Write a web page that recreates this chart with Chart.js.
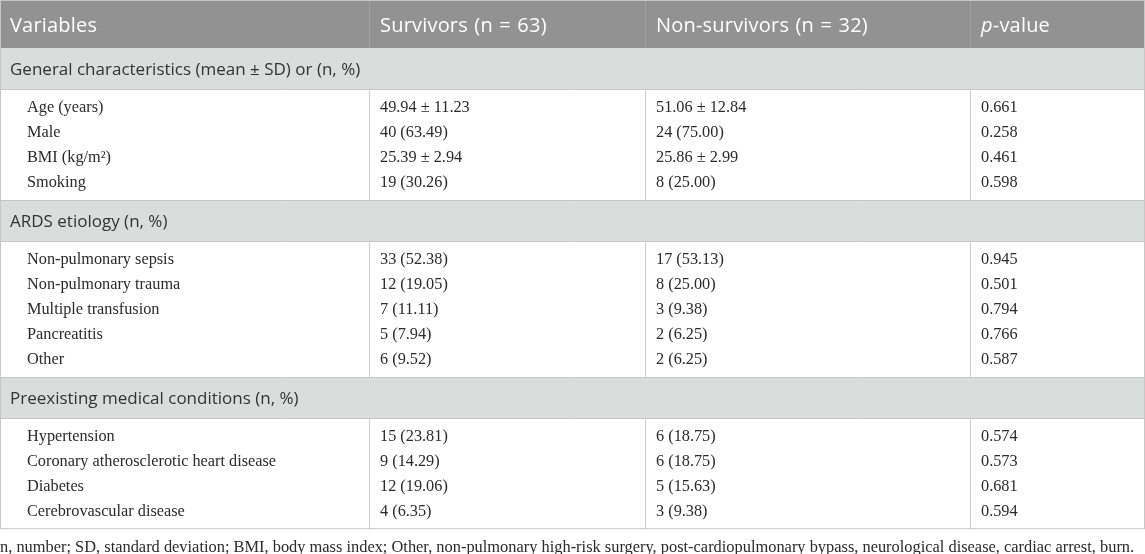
<!DOCTYPE html>
<html>
<head>
<meta charset="utf-8">
<script src="https://cdn.jsdelivr.net/npm/chart.js@4.4.1/dist/chart.umd.min.js"></script>
<style>
  html, body { margin: 0; padding: 0; background: #fff; }
  canvas { display: block; }
</style>
</head>
<body>
<canvas id="tabla" width="1145" height="554"></canvas>
<script>
// datos de la tabla
const columnHeaders = ['Variables', 'Survivors (n = 63)', 'Non-survivors (n = 32)', 'p-value'];
const sectionTitles = [
  'General characteristics (mean ± SD) or (n, %)',
  'ARDS etiology (n, %)',
  'Preexisting medical conditions (n, %)'
];
const sectionSizes = [4, 5, 4];
const variables = [
  'Age (years)', 'Male', 'BMI (kg/m²)', 'Smoking',
  'Non-pulmonary sepsis', 'Non-pulmonary trauma', 'Multiple transfusion', 'Pancreatitis', 'Other',
  'Hypertension', 'Coronary atherosclerotic heart disease', 'Diabetes', 'Cerebrovascular disease'
];
const survivors = [
  '49.94 ± 11.23', '40 (63.49)', '25.39 ± 2.94', '19 (30.26)',
  '33 (52.38)', '12 (19.05)', '7 (11.11)', '5 (7.94)', '6 (9.52)',
  '15 (23.81)', '9 (14.29)', '12 (19.06)', '4 (6.35)'
];
const nonSurvivors = [
  '51.06 ± 12.84', '24 (75.00)', '25.86 ± 2.99', '8 (25.00)',
  '17 (53.13)', '8 (25.00)', '3 (9.38)', '2 (6.25)', '2 (6.25)',
  '6 (18.75)', '6 (18.75)', '5 (15.63)', '3 (9.38)'
];
const pValues = [
  '0.661', '0.258', '0.461', '0.598',
  '0.945', '0.501', '0.794', '0.766', '0.587',
  '0.574', '0.573', '0.681', '0.594'
];
const footnote = 'n, number; SD, standard deviation; BMI, body mass index; Other, non-pulmonary high-risk surgery, post-cardiopulmonary bypass, neurological disease, cardiac arrest, burn.';

// medidas de la rejilla (unidades de escala)
const colWidths = [369, 276, 325, 175];
const alto = { header: 48, section: 41, padTop: 6, line: 25, padBottom: 5 };

const colEdges = colWidths.reduce((acc, w) => { acc.push(acc[acc.length - 1] + w); return acc; }, [0]);
const totalW = colEdges[colEdges.length - 1];

// filas: cabecera, secciones y bloques de datos
const bloques = [];
let cursor = alto.header;
let idx = 0;
sectionSizes.forEach((n, s) => {
  const sec = { title: sectionTitles[s], top: cursor, bottom: cursor + alto.section };
  cursor = sec.bottom;
  const blockTop = cursor;
  const filas = [];
  cursor += alto.padTop;
  for (let i = 0; i < n; i++) {
    filas.push({ i: idx++, mid: cursor + alto.line / 2 });
    cursor += alto.line;
  }
  cursor += alto.padBottom;
  bloques.push({ sec, blockTop, blockBottom: cursor, filas });
});
const totalH = cursor;

const SANS = '"Open Sans", "Noto Sans", sans-serif';
const SERIF = '"Liberation Serif", "Times New Roman", serif';

const tablaPlugin = {
  id: 'tabla',
  afterDraw(chart) {
    const { ctx, scales: { x, y } } = chart;
    const px = v => x.getPixelForValue(v);
    const py = v => y.getPixelForValue(v);
    const left = px(0), right = px(totalW);

    ctx.save();
    ctx.textBaseline = 'middle';

    // cabecera
    ctx.fillStyle = '#929292';
    ctx.fillRect(left, py(0), right - left, py(alto.header) - py(0));
    ctx.strokeStyle = '#a3a3a3';
    ctx.lineWidth = 1;
    for (let c = 1; c < colEdges.length - 1; c++) {
      ctx.beginPath();
      ctx.moveTo(Math.round(px(colEdges[c])) + 0.5, py(0));
      ctx.lineTo(Math.round(px(colEdges[c])) + 0.5, py(alto.header));
      ctx.stroke();
    }
    ctx.fillStyle = '#ffffff';
    ctx.letterSpacing = '0.2px';
    ctx.wordSpacing = '1px';
    ctx.font = '20px ' + SANS;
    const hMid = py(alto.header / 2) + 2;
    columnHeaders.forEach((h, c) => {
      const tx = px(colEdges[c] + (c === 0 ? 10 : 11));
      if (h === 'p-value') {
        ctx.font = 'italic 20px ' + SANS;
        ctx.fillText('p', tx, hMid);
        const w = ctx.measureText('p').width;
        ctx.font = '20px ' + SANS;
        ctx.fillText('-value', tx + w, hMid);
      } else {
        ctx.fillText(h, tx, hMid);
      }
    });
    ctx.letterSpacing = '0px';
    ctx.wordSpacing = '0px';

    bloques.forEach(b => {
      // franja de seccion
      ctx.fillStyle = '#dbdcdc';
      ctx.fillRect(left, py(b.sec.top), right - left, py(b.sec.bottom) - py(b.sec.top));
      ctx.strokeStyle = '#c6c6c6';
      [b.sec.top, b.sec.bottom].forEach(v => {
        if (v === alto.header) return;
        ctx.beginPath();
        ctx.moveTo(left, Math.round(py(v)) + 0.5);
        ctx.lineTo(right, Math.round(py(v)) + 0.5);
        ctx.stroke();
      });
      ctx.fillStyle = '#333333';
      ctx.font = '17px ' + SANS;
      ctx.fillText(b.sec.title, px(10), py((b.sec.top + b.sec.bottom) / 2) + 2);

      // lineas verticales del bloque
      ctx.strokeStyle = '#d0d0d0';
      for (let c = 1; c < colEdges.length - 1; c++) {
        ctx.beginPath();
        ctx.moveTo(Math.round(px(colEdges[c])) + 0.5, py(b.blockTop));
        ctx.lineTo(Math.round(px(colEdges[c])) + 0.5, py(b.blockBottom));
        ctx.stroke();
      }

      // celdas
      ctx.fillStyle = '#2b2b2b';
      ctx.font = '16.3px ' + SERIF;
      b.filas.forEach(f => {
        const yy = py(f.mid);
        ctx.fillText(variables[f.i], px(27), yy);
        ctx.fillText(survivors[f.i], px(colEdges[1] + 11), yy);
        ctx.fillText(nonSurvivors[f.i], px(colEdges[2] + 11), yy);
        ctx.fillText(pValues[f.i], px(colEdges[3] + 11), yy);
      });
    });

    // borde exterior
    ctx.strokeStyle = '#c6c6c6';
    ctx.strokeRect(left + 0.5, py(0) + 0.5, right - left - 1, py(totalH) - py(0) - 1);
    ctx.restore();
  }
};

new Chart(document.getElementById('tabla'), {
  type: 'scatter',
  data: { datasets: [{ data: [] }] },
  options: {
    responsive: false,
    animation: false,
    layout: { padding: 0 },
    scales: {
      x: { type: 'linear', min: 0, max: totalW, display: false },
      y: { type: 'linear', min: 0, max: totalH, reverse: true, display: false }
    },
    plugins: {
      legend: { display: false },
      tooltip: { enabled: false },
      title: {
        display: true,
        position: 'bottom',
        align: 'start',
        text: footnote,
        color: '#2b2b2b',
        font: { family: SERIF, size: 16.4, weight: 'normal', lineHeight: 0.72 },
        padding: { top: 13, bottom: 0 }
      }
    }
  },
  plugins: [tablaPlugin]
});
</script>
</body>
</html>
